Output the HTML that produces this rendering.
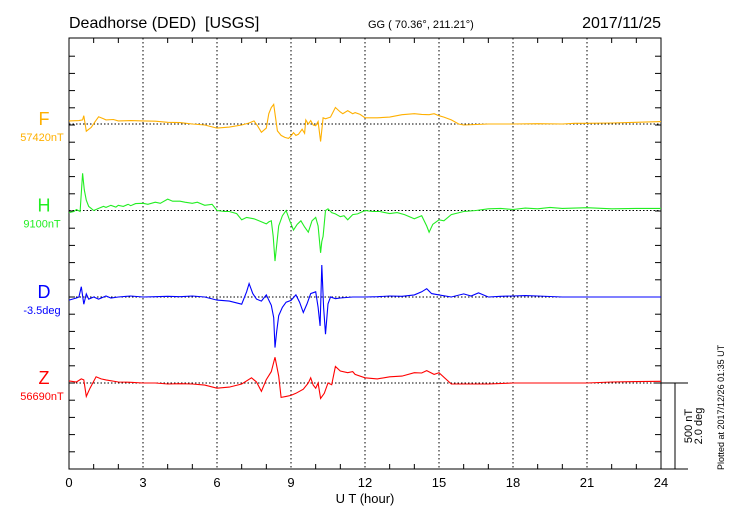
<!DOCTYPE html>
<html><head><meta charset="utf-8"><style>
body{margin:0;background:#fff;}
svg text{font-family:"Liberation Sans",Arial,sans-serif;white-space:pre;}
</style></head><body>
<svg id="chart" width="730" height="520" viewBox="0 0 730 520">
<text x="69" y="28" font-size="16" xml:space="preserve">Deadhorse (DED)  [USGS]</text>
<text x="368" y="28" font-size="11">GG ( 70.36°, 211.21°)</text>
<text x="661" y="28" font-size="16" text-anchor="end">2017/11/25</text>
<rect x="69" y="38" width="592" height="431" fill="none" stroke="#000" stroke-width="1"/>
<g id="grid"></g><g id="ticks"></g><g id="series"></g>
<text x="365" y="503" font-size="13" text-anchor="middle">U T (hour)</text>
<line x1="661" y1="383" x2="688" y2="383" stroke="#000"/>
<line x1="675" y1="383" x2="675" y2="469" stroke="#000"/>
<line x1="661" y1="469" x2="688" y2="469" stroke="#000"/>
<text transform="translate(692,426) rotate(-90)" font-size="11" text-anchor="middle">500 nT</text>
<text transform="translate(702,426) rotate(-90)" font-size="11" text-anchor="middle">2.0 deg</text>
<text transform="translate(724,470) rotate(-90)" font-size="9">Plotted at 2017/12/26 01:35 UT</text>
</svg>
<script>
const xTicks=[0,3,6,9,12,15,18,21,24];
const channels=["F","H","D","Z"];
const baseLabels=["57420nT","9100nT","-3.5deg","56690nT"];
const colors=["#ffb000","#22ee22","#0000ff","#ff0000"];
const tF=[0,0.4,0.55,0.6,0.7,0.9,1.05,1.2,1.4,1.5,1.8,2,2.5,3,3.5,4,4.5,5,5.5,6,6.5,7,7.3,7.5,7.65,7.8,8.0,8.1,8.2,8.3,8.45,8.6,8.75,8.9,9.0,9.1,9.2,9.3,9.4,9.45,9.55,9.6,9.7,9.8,9.9,10,10.1,10.2,10.3,10.4,10.6,10.8,11,11.1,11.3,11.5,11.6,11.8,12,12.5,13,13.5,14,14.3,14.6,14.8,15,15.2,15.5,15.8,16,17,18,19,20,20.5,21,22,23,24];
const vF=[18,20,24,48,-42,-20,12,42,30,24,26,18,20,18,16,10,8,0,-6,-24,-18,-6,6,18,-12,-48,-24,60,96,114,-40,-66,-78,-84,-70,-50,-66,-60,-40,-30,-54,24,0,20,-6,-10,14,-102,36,30,40,96,70,60,78,60,66,56,36,36,40,54,60,56,54,60,48,40,24,0,-6,0,0,2,0,4,4,6,10,14];
const tH=[0,0.2,0.3,0.45,0.55,0.62,0.7,0.8,0.9,1,1.2,1.4,1.5,1.7,1.9,2,2.2,2.4,2.5,2.7,3,3.2,3.5,3.7,4,4.2,4.5,4.7,5,5.2,5.5,5.8,6,6.3,6.5,6.8,7,7.2,7.5,7.7,8,8.1,8.2,8.28,8.35,8.42,8.5,8.65,8.8,8.95,9.1,9.25,9.4,9.55,9.7,9.85,10,10.1,10.2,10.25,10.3,10.4,10.5,10.65,10.8,11,11.15,11.3,11.5,11.7,12,12.3,12.6,13,13.3,13.6,14,14.3,14.5,14.6,14.75,15,15.2,15.5,16,16.5,17,17.5,18,18.5,19,19.5,20,21,22,23,24];
const vH=[-12,-6,6,-6,216,120,60,24,12,0,12,24,18,30,20,30,24,36,28,40,42,36,48,42,66,54,54,48,42,48,30,36,0,-6,-6,-18,-54,-40,-48,-60,-78,-66,-60,-150,-294,-200,-90,-30,0,-60,-114,-80,-60,-96,-126,-60,-40,-90,-246,-180,-150,0,10,-12,-20,-36,-30,-54,-24,-20,0,-6,-6,-18,-12,-24,-48,-30,-90,-126,-80,-54,-60,-24,-6,0,10,12,6,14,10,18,12,16,10,12,12,10];
const tD=[0,0.3,0.4,0.5,0.6,0.7,0.8,1,1.2,1.5,1.7,2,2.5,3,3.5,4,4.5,5,5.5,6,6.5,7,7.2,7.3,7.45,7.6,7.8,8,8.1,8.2,8.3,8.35,8.42,8.5,8.65,8.8,9,9.2,9.35,9.5,9.65,9.8,10,10.1,10.18,10.25,10.32,10.4,10.5,10.6,10.8,11,11.5,12,12.5,13,13.5,14,14.3,14.5,14.7,15,15.5,16,16.3,16.6,17,17.5,18,18.5,19,20,21,22,23,24];
const vD=[-18,-6,0,60,-42,18,-12,0,-12,6,-6,0,6,0,2,4,2,6,0,-18,-24,-42,30,78,20,-12,-24,12,-18,-48,-120,-294,-200,-108,-60,-30,-20,12,-30,-90,-40,20,30,-60,-168,186,-60,-216,-40,0,-10,-6,0,0,2,6,4,12,30,48,20,12,0,18,6,24,0,4,6,8,6,0,0,0,0,0];
const tZ=[0,0.3,0.5,0.6,0.7,0.85,1.1,1.3,1.5,2,2.5,3,3.5,4,4.5,5,5.5,6,6.5,7,7.4,7.6,7.8,8,8.2,8.35,8.5,8.6,8.8,9,9.2,9.5,9.7,9.8,9.9,10,10.1,10.2,10.35,10.5,10.65,10.8,11,11.3,11.5,11.6,12,12.5,13,13.5,14,14.3,14.5,14.8,15,15.5,16,17,18,19,20,21,22,23,24];
const vZ=[12,6,24,18,-78,-30,36,24,18,6,4,0,0,-6,-4,-6,-12,-30,-24,-6,30,6,-48,20,66,150,40,-84,-78,-72,-60,-36,0,30,-12,-30,0,-90,-60,0,-10,96,70,60,66,50,30,24,36,40,60,58,72,50,60,-6,-6,-6,0,0,0,0,6,8,10];
const times=[tF,tH,tD,tZ];const vals=[vF,vH,vD,vZ];
const X0=69,X1=661,Y0=38,Y1=469;
const baseY=[124,210.5,297,383];
const pxPerUnit=86/500;
function xs(h){return X0+h*(X1-X0)/24;}
function ys(i,v){return baseY[i]-v*pxPerUnit;}
const NS="http://www.w3.org/2000/svg";
function mk(tag,attrs,parent){const e=document.createElementNS(NS,tag);for(const k in attrs)e.setAttribute(k,attrs[k]);parent.appendChild(e);return e;}
const grid=document.getElementById('grid'),ticks=document.getElementById('ticks'),ser=document.getElementById('series'),svg=document.getElementById('chart');
xTicks.forEach(h=>{
  if(h>0&&h<24){const g=mk('line',{x1:xs(h),y1:Y0,x2:xs(h),y2:Y1,stroke:'#000','stroke-dasharray':'1.5,2.5','stroke-width':1},grid);
  
  }
  const t=mk('text',{x:xs(h),y:487,'font-size':13,'text-anchor':'middle'},ticks);t.textContent=h;
  
  
});
for(let h=1;h<24;h++){if(h%3===0)continue;
  const a=mk('line',{x1:xs(h),y1:Y0,x2:xs(h),y2:Y0+5,stroke:'#000'},ticks);
  
  
  const b=mk('line',{x1:xs(h),y1:Y1,x2:xs(h),y2:Y1-5,stroke:'#000'},ticks);
  
  }
for(let k=-20;k<=25;k++){const y=383-k*17.2;if(y<=Y0+2||y>=Y1-2)continue;
  const a=mk('line',{x1:X0,y1:y,x2:X0+6,y2:y,stroke:'#000'},ticks);
  
  
  const b=mk('line',{x1:X1,y1:y,x2:X1-6,y2:y,stroke:'#000'},ticks);
  
  }
channels.forEach((c,i)=>{
  const bl=mk('line',{x1:X0,y1:baseY[i],x2:X1,y2:baseY[i],stroke:'#000','stroke-dasharray':'1.5,2','stroke-width':1},grid);
  
  
  const L=mk('text',{x:44,y:baseY[i]+1,'font-size':18,'text-anchor':'middle',fill:colors[i]},svg);L.textContent=c;
  
  
  const B=mk('text',{x:42,y:baseY[i]+17,'font-size':11,'text-anchor':'middle',fill:colors[i]},svg);B.textContent=baseLabels[i];
  
  
  const pts=times[i].map((t,j)=>xs(t).toFixed(1)+','+ys(i,vals[i][j]).toFixed(1)).join(' ');
  const p=mk('polyline',{points:pts,fill:'none',stroke:colors[i],'stroke-width':1.1},ser);
  
  
});
</script>
</body></html>
